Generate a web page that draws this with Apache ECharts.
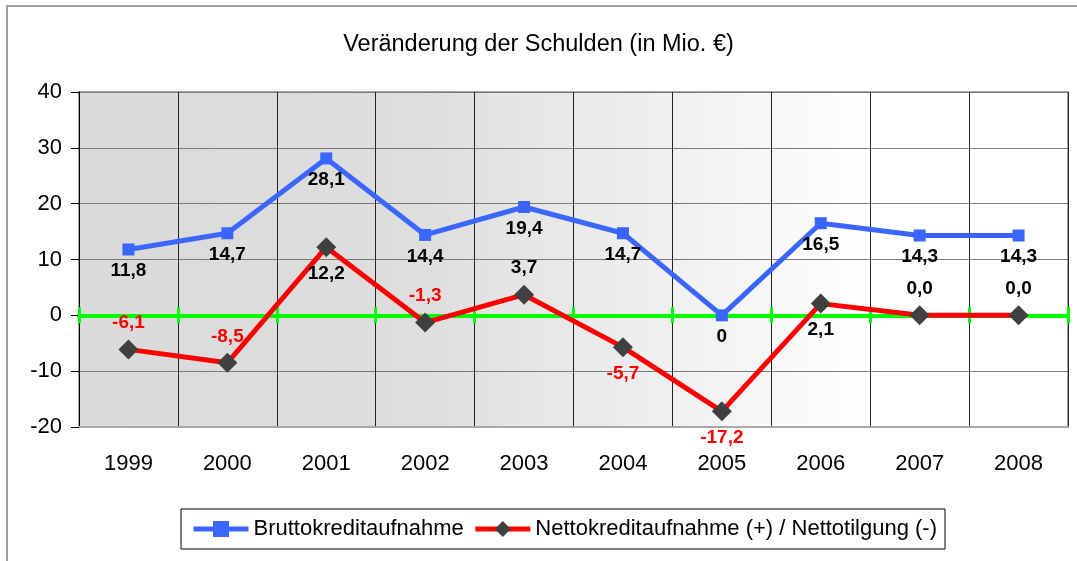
<!DOCTYPE html>
<html>
<head>
<meta charset="utf-8">
<script src="https://cdn.jsdelivr.net/npm/echarts@6/dist/echarts.min.js"></script>
<style>
  html, body { margin: 0; padding: 0; background: #fff; }
  #chart { width: 1077px; height: 561px; }
</style>
</head>
<body>
<div id="chart"></div>
<script>
// Werte aus der Grafik
const years = ['1999', '2000', '2001', '2002', '2003', '2004', '2005', '2006', '2007', '2008'];
const brutto = [11.8, 14.7, 28.1, 14.4, 19.4, 14.7, 0, 16.5, 14.3, 14.3];
const netto = [-6.1, -8.5, 12.2, -1.3, 3.7, -5.7, -17.2, 2.1, 0.0, 0.0];
const yTicks = [-20, -10, 0, 10, 20, 30, 40];

// Lage der Beschriftungen der Nettolinie (oben/unten)
const nettoLabelPos = ['top', 'top', 'bottom', 'top', 'top', 'bottom', 'bottom', 'bottom', 'top', 'top'];

const font = 'Liberation Sans, Arial, sans-serif';

function fmt(v, zeroPlain) {
  if (v === 0 && zeroPlain) return '0';
  return v.toFixed(1).replace('.', ',');
}

const nettoData = netto.map(function (v, i) {
  return {
    value: v,
    label: {
      position: nettoLabelPos[i],
      color: v < 0 ? '#ff0000' : '#000000'
    }
  };
});

const chart = echarts.init(document.getElementById('chart'));

const option = {
  backgroundColor: '#ffffff',
  animation: false,
  textStyle: { fontFamily: font },
  title: {
    text: 'Veränderung der Schulden (in Mio. €)',
    left: 'center',
    top: 28,
    textStyle: { fontFamily: font, fontSize: 23.5, fontWeight: 'normal', color: '#000' }
  },
  graphic: [{
    type: 'rect',
    shape: { x: 7, y: 6, width: 1090, height: 580 },
    style: { fill: 'none', stroke: '#a0a0a0', lineWidth: 2 },
    silent: true
  }],
  legend: {
    left: 181,
    top: 509,
    padding: [9, 8, 9, 10],
    borderColor: '#000',
    borderWidth: 1,
    itemWidth: 55,
    itemHeight: 20,
    itemGap: 9,
    lineStyle: { width: 5 },
    textStyle: { fontFamily: font, fontSize: 22, color: '#000' },
    data: ['Bruttokreditaufnahme', 'Nettokreditaufnahme (+) / Nettotilgung (-)']
  },
  grid: {
    left: 79,
    right: 9,
    top: 92,
    bottom: 134,
    show: true,
    borderColor: '#a8a8a8',
    borderWidth: 2,
    backgroundColor: {
      type: 'linear', x: 0, y: 0, x2: 1, y2: 0,
      colorStops: [
        { offset: 0, color: '#dadada' },
        { offset: 0.35, color: '#dedede' },
        { offset: 0.8, color: '#ffffff' },
        { offset: 1, color: '#ffffff' }
      ]
    }
  },
  xAxis: [{
    type: 'category',
    data: years,
    boundaryGap: true,
    position: 'bottom',
    axisLine: { onZero: false, lineStyle: { color: '#a8a8a8', width: 2 } },
    axisTick: { show: false },
    axisLabel: { fontFamily: font, fontSize: 22, color: '#000', margin: 26 },
    splitLine: { show: true, lineStyle: { color: '#222', width: 1 } }
  }, {
    type: 'category',
    data: years,
    boundaryGap: true,
    position: 'bottom',
    axisLine: { onZero: true, onZeroAxisIndex: 0, lineStyle: { color: '#00ff00', width: 4 } },
    axisTick: { show: true, inside: false, length: 8, lineStyle: { color: '#00ff00', width: 3 } },
    axisLabel: { show: false },
    splitLine: { show: false }
  }, {
    type: 'category',
    data: years,
    boundaryGap: true,
    position: 'bottom',
    axisLine: { onZero: true, onZeroAxisIndex: 0, lineStyle: { color: '#00ff00', width: 4 } },
    axisTick: { show: true, inside: true, length: 8, lineStyle: { color: '#00ff00', width: 3 } },
    axisLabel: { show: false },
    splitLine: { show: false }
  }],
  yAxis: {
    type: 'value',
    min: yTicks[0],
    max: yTicks[yTicks.length - 1],
    interval: 10,
    axisLine: { show: true, lineStyle: { color: '#000', width: 1 } },
    axisTick: { show: true, length: 8, lineStyle: { color: '#000' } },
    axisLabel: { fontFamily: font, fontSize: 22, color: '#000', margin: 17 },
    splitLine: { show: true, lineStyle: { color: '#7a7a7a', width: 1 } }
  },
  series: [{
    name: 'Bruttokreditaufnahme',
    type: 'line',
    xAxisIndex: 0,
    data: brutto,
    symbol: 'rect',
    symbolSize: 12,
    z: 3,
    itemStyle: { color: '#3a66ff' },
    lineStyle: { color: '#3a66ff', width: 5 },
    label: {
      show: true,
      position: 'bottom',
      distance: 6,
      fontFamily: font,
      fontSize: 19,
      fontWeight: 'bold',
      color: '#000',
      formatter: function (p) { return fmt(p.value, true); }
    }
  }, {
    name: 'Nettokreditaufnahme (+) / Nettotilgung (-)',
    type: 'line',
    xAxisIndex: 0,
    data: nettoData,
    symbol: 'diamond',
    symbolSize: 20,
    z: 4,
    itemStyle: { color: '#404040' },
    lineStyle: { color: '#ff0000', width: 5 },
    label: {
      show: true,
      distance: 7,
      fontFamily: font,
      fontSize: 19,
      fontWeight: 'bold',
      formatter: function (p) { return fmt(p.value, false); }
    }
  }]
};

chart.setOption(option);
window.onresize = chart.resize;
</script>
</body>
</html>
